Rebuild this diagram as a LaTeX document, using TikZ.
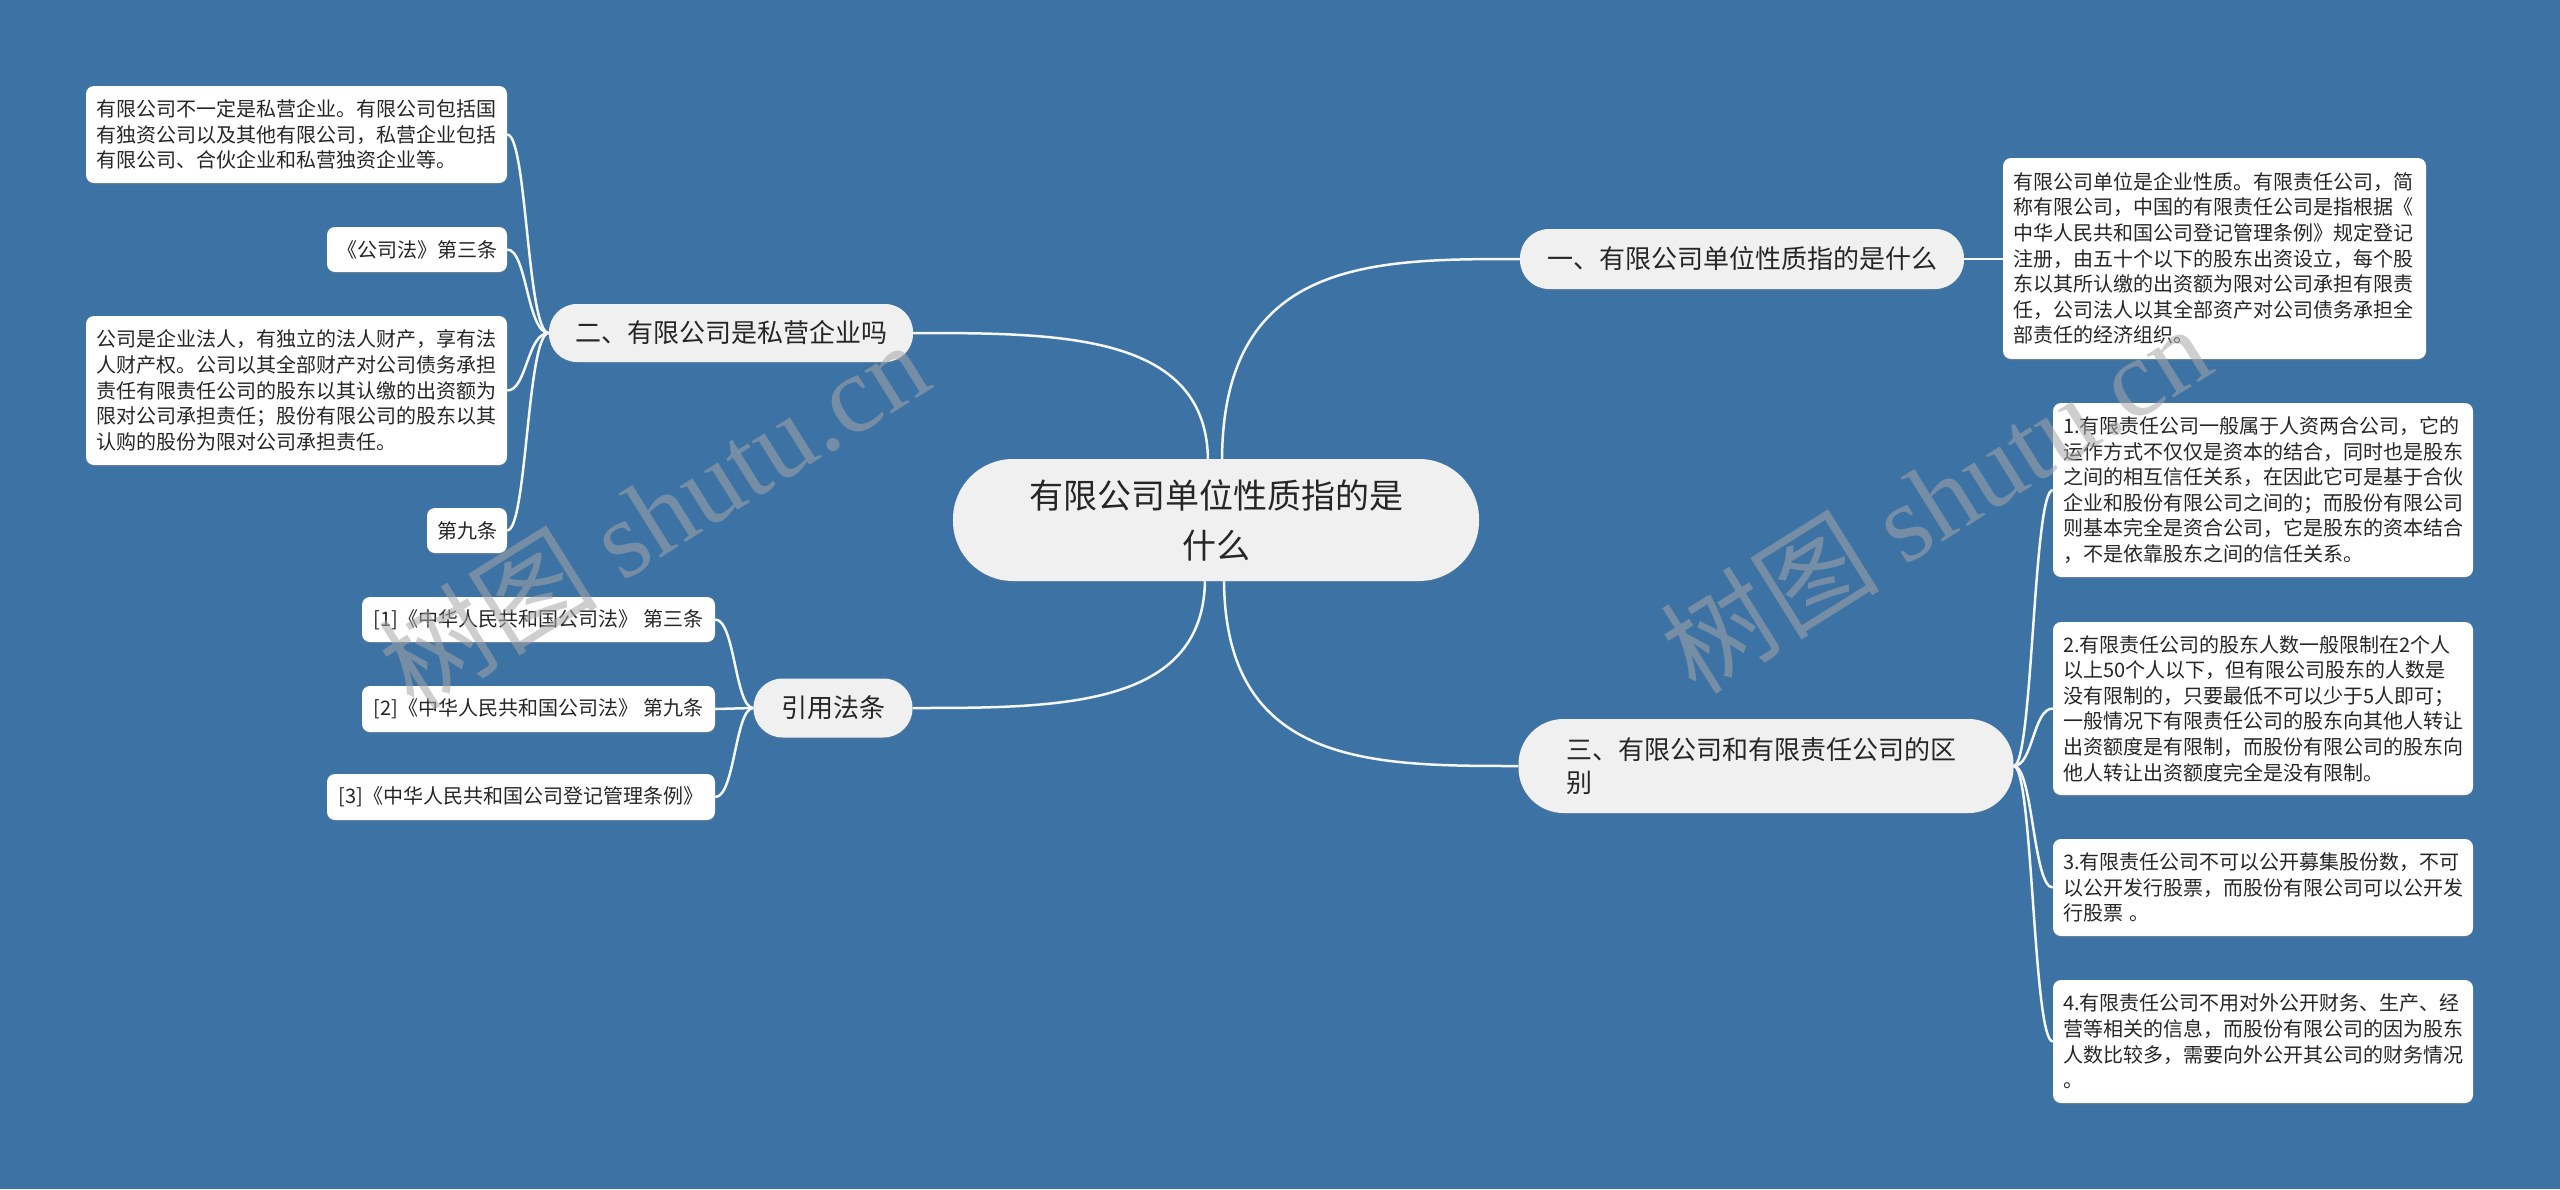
\documentclass[tikz,border=0pt]{standalone}
\usepackage{fontspec}
\setmainfont{Noto Sans CJK SC}
\newfontfamily\wmserif{Liberation Serif}
\usetikzlibrary{shadows}
\definecolor{bgblue}{HTML}{3D72A4}
\definecolor{txt}{HTML}{262626}
\definecolor{branchfill}{HTML}{F0F0F0}
\definecolor{linec}{HTML}{F4F7FB}
\pgfdeclarelayer{bglayer}
\pgfsetlayers{bglayer,main}
\tikzset{
  leafbox/.style={fill=white, rounded corners=8pt, inner xsep=10pt, inner ysep=0pt,
    text=txt, font=\fontsize{20}{25.6}\selectfont, align=left,
    drop shadow={opacity=0.18, shadow xshift=0pt, shadow yshift=-2pt}},
  branchbox/.style={fill=branchfill, text=txt, font=\fontsize{26}{33}\selectfont, inner sep=0pt,
    drop shadow={opacity=0.15, shadow xshift=0pt, shadow yshift=-2pt}},
  rootbox/.style={fill=branchfill, text=txt, font=\fontsize{34}{50}\selectfont, inner sep=0pt,
    align=center, rounded corners=60pt, minimum width=526pt, minimum height=122pt,
    drop shadow={opacity=0.15, shadow xshift=0pt, shadow yshift=-2pt}},
  conn/.style={draw=linec, line width=2.5pt},
  wmark/.style={text=black!35, opacity=0.55, font=\fontsize{110}{110}\selectfont, rotate=32, inner sep=0pt}
}
\begin{document}
\begin{tikzpicture}[x=1pt,y=-1pt]
\begin{pgfonlayer}{bglayer}
\fill[bgblue] (0,0) rectangle (2560,1189);
\end{pgfonlayer}
\useasboundingbox (0,0) rectangle (2560,1189);

% root
\node[rootbox] (root) at (1216,520) {有限公司单位性质指的是\\什么};

% branches
\node[branchbox, rounded corners=29pt, minimum width=444pt, minimum height=60pt] (b1) at (1742,259) {一、有限公司单位性质指的是什么};
\node[branchbox, rounded corners=28pt, minimum width=364pt, minimum height=58pt] (b2) at (731,333) {二、有限公司是私营企业吗};
\node[branchbox, rounded corners=45pt, minimum width=495pt, minimum height=94pt, text width=400pt, align=left] (b3) at (1766,766) {三、有限公司和有限责任公司的区\\别};
\node[branchbox, rounded corners=29pt, minimum width=159pt, minimum height=59pt] (b4) at (833,708) {引用法条};

% leaf of branch 1
\node[leafbox, text width=403pt, minimum height=201pt] (r1) at (2214.5,258.5) {有限公司单位是企业性质。有限责任公司，简\\称有限公司，中国的有限责任公司是指根据《\\中华人民共和国公司登记管理条例》规定登记\\注册，由五十个以下的股东出资设立，每个股\\东以其所认缴的出资额为限对公司承担有限责\\任，公司法人以其全部资产对公司债务承担全\\部责任的经济组织。};

% leaves of branch 3
\node[leafbox, text width=400pt, minimum height=174pt] (d1) at (2263,490) {1.有限责任公司一般属于人资两合公司，它的\\运作方式不仅仅是资本的结合，同时也是股东\\之间的相互信任关系，在因此它可是基于合伙\\企业和股份有限公司之间的；而股份有限公司\\则基本完全是资合公司，它是股东的资本结合\\，不是依靠股东之间的信任关系。};
\node[leafbox, text width=400pt, minimum height=173pt] (d2) at (2263,708.5) {2.有限责任公司的股东人数一般限制在2个人\\以上50个人以下，但有限公司股东的人数是\\没有限制的，只要最低不可以少于5人即可；\\一般情况下有限责任公司的股东向其他人转让\\出资额度是有限制，而股份有限公司的股东向\\他人转让出资额度完全是没有限制。};
\node[leafbox, text width=400pt, minimum height=97pt] (d3) at (2263,887.5) {3.有限责任公司不可以公开募集股份数，不可\\以公开发行股票，而股份有限公司可以公开发\\行股票 。};
\node[leafbox, text width=400pt, minimum height=123pt] (d4) at (2263,1041.5) {4.有限责任公司不用对外公开财务、生产、经\\营等相关的信息，而股份有限公司的因为股东\\人数比较多，需要向外公开其公司的财务情况\\。};

% leaves of branch 2
\node[leafbox, text width=401pt, minimum height=97pt] (pA) at (296.5,134.5) {有限公司不一定是私营企业。有限公司包括国\\有独资公司以及其他有限公司，私营企业包括\\有限公司、合伙企业和私营独资企业等。};
\node[leafbox, minimum width=180pt, minimum height=45pt, align=center] (pB) at (417,249.5) {《公司法》第三条};
\node[leafbox, text width=401pt, minimum height=149pt] (pC) at (296.5,390.5) {公司是企业法人，有独立的法人财产，享有法\\人财产权。公司以其全部财产对公司债务承担\\责任有限责任公司的股东以其认缴的出资额为\\限对公司承担责任；股份有限公司的股东以其\\认购的股份为限对公司承担责任。};
\node[leafbox, minimum width=80pt, minimum height=45pt, align=center] (pD) at (467,530.5) {第九条};

% citations
\node[leafbox, minimum width=353pt, minimum height=45pt, align=center] (c1) at (538.5,619.5) {[1]《中华人民共和国公司法》 第三条};
\node[leafbox, minimum width=353pt, minimum height=46pt, align=center] (c2) at (538.5,709) {[2]《中华人民共和国公司法》 第九条};
\node[leafbox, minimum width=388pt, minimum height=46pt, align=center] (c3) at (521,797) {[3]《中华人民共和国公司登记管理条例》};

% connectors
\begin{pgfonlayer}{bglayer}
\draw[conn] ([xshift=6pt,yshift=-3pt]root.north) .. controls (1222,259) and (1371,259) .. (b1.west);
\draw[conn] ([xshift=8pt,yshift=3pt]root.south) .. controls (1224,766) and (1371,766) .. (b3.west);
\draw[conn] ([xshift=-8pt,yshift=-3pt]root.north) .. controls (1208,333) and (1060,333) .. (b2.east);
\draw[conn] ([xshift=-11pt,yshift=3pt]root.south) .. controls (1205,708) and (1059,708) .. (b4.east);

\draw[conn] (b1.east) -- (r1.west |- b1.east);

\draw[conn] (b3.east) .. controls (2033,766) and (2033,490) .. (d1.west);
\draw[conn] (b3.east) .. controls (2033,766) and (2033,708.5) .. (d2.west);
\draw[conn] (b3.east) .. controls (2033,766) and (2033,887.5) .. (d3.west);
\draw[conn] (b3.east) .. controls (2033,766) and (2033,1041.5) .. (d4.west);

\draw[conn] (b2.west) .. controls (527,333) and (527,134.5) .. (pA.east);
\draw[conn] (b2.west) .. controls (527,333) and (527,249.5) .. (pB.east);
\draw[conn] (b2.west) .. controls (527,333) and (527,390.5) .. (pC.east);
\draw[conn] (b2.west) .. controls (527,333) and (527,530.5) .. (pD.east);

\draw[conn] (b4.west) .. controls (735,708) and (735,619.5) .. (c1.east);
\draw[conn] (b4.west) .. controls (735,708) and (735,709) .. (c2.east);
\draw[conn] (b4.west) .. controls (735,708) and (735,797) .. (c3.east);
\end{pgfonlayer}

% watermarks
\node[wmark] (wm1) at (653,514) {树图 {\wmserif shutu.cn}};
\node[wmark] (wm2) at (1935,498) {树图 {\wmserif shutu.cn}};
\end{tikzpicture}
\end{document}
